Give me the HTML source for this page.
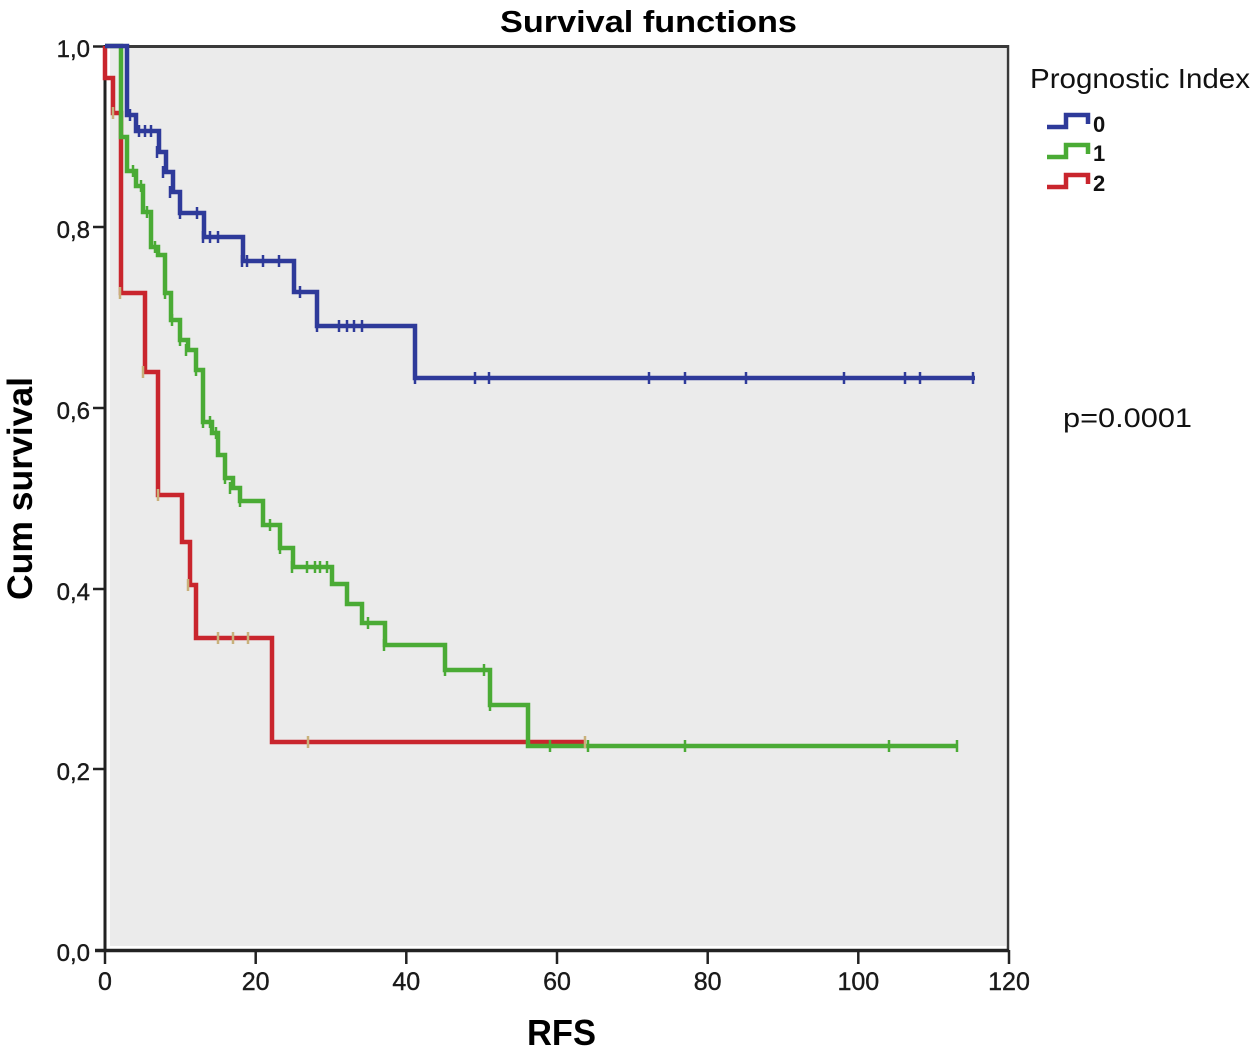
<!DOCTYPE html>
<html><head><meta charset="utf-8"><style>
html,body{margin:0;padding:0;background:#fff;}
svg{display:block;}
text{font-family:"Liberation Sans",Arial,sans-serif;}
</style></head><body>
<svg width="1258" height="1051" viewBox="0 0 1258 1051" xmlns="http://www.w3.org/2000/svg">
<rect x="0" y="0" width="1258" height="1051" fill="#fff"/>
<!-- plot background -->
<rect x="110" y="48" width="896" height="898" fill="#ebebeb"/>
<!-- frame -->
<line x1="105" y1="46.5" x2="1008" y2="46.5" stroke="#3a3a3a" stroke-width="3"/>
<line x1="1008" y1="45" x2="1008" y2="951" stroke="#3a3a3a" stroke-width="2.5"/>
<line x1="105" y1="45" x2="105" y2="952" stroke="#222" stroke-width="3"/>
<line x1="95" y1="950.5" x2="1009" y2="950.5" stroke="#222" stroke-width="3.5"/>
<!-- y ticks -->
<g stroke="#222" stroke-width="2.5">
<line x1="93" y1="46.5" x2="105" y2="46.5"/>
<line x1="93" y1="227" x2="105" y2="227"/>
<line x1="93" y1="408" x2="105" y2="408"/>
<line x1="93" y1="589" x2="105" y2="589"/>
<line x1="93" y1="769" x2="105" y2="769"/>
</g>
<!-- x ticks -->
<g stroke="#222" stroke-width="2.5">
<line x1="105" y1="950" x2="105" y2="964"/>
<line x1="255.7" y1="950" x2="255.7" y2="964"/>
<line x1="406.3" y1="950" x2="406.3" y2="964"/>
<line x1="557" y1="950" x2="557" y2="964"/>
<line x1="707.7" y1="950" x2="707.7" y2="964"/>
<line x1="858.3" y1="950" x2="858.3" y2="964"/>
<line x1="1009" y1="950" x2="1009" y2="964"/>
</g>
<!-- y tick labels -->
<g font-size="24" fill="#1a1a1a" text-anchor="end" stroke="#1a1a1a" stroke-width="0.4">
<text x="90" y="57">1,0</text>
<text x="90" y="238">0,8</text>
<text x="90" y="419">0,6</text>
<text x="90" y="600">0,4</text>
<text x="90" y="780">0,2</text>
<text x="90" y="961">0,0</text>
</g>
<!-- x tick labels -->
<g font-size="25" fill="#1a1a1a" text-anchor="middle" stroke="#1a1a1a" stroke-width="0.4">
<text x="105" y="990">0</text>
<text x="255.7" y="990">20</text>
<text x="406.3" y="990">40</text>
<text x="557" y="990">60</text>
<text x="707.7" y="990">80</text>
<text x="858.3" y="990">100</text>
<text x="1009" y="990">120</text>
</g>
<!-- title & axis labels -->
<text x="500" y="32" font-size="31" font-weight="bold" fill="#000" textLength="297" lengthAdjust="spacingAndGlyphs">Survival functions</text>
<text x="527" y="1045" font-size="36" font-weight="bold" fill="#000" textLength="69" lengthAdjust="spacingAndGlyphs">RFS</text>
<text transform="translate(32,600) rotate(-90)" font-size="35" font-weight="bold" fill="#000" textLength="223" lengthAdjust="spacingAndGlyphs">Cum survival</text>
<!-- legend -->
<text x="1030" y="88" font-size="28" fill="#111" textLength="220" lengthAdjust="spacingAndGlyphs">Prognostic Index</text>
<g fill="none" stroke-width="4.5">
<polyline points="1047,127 1066,127 1066,115 1088,115 1088,124" stroke="#2e3a9a"/>
<polyline points="1047,157 1066,157 1066,145 1088,145 1088,154" stroke="#4aab35"/>
<polyline points="1047,187 1066,187 1066,175 1088,175 1088,184" stroke="#c9252d"/>
</g>
<g font-size="22" fill="#111" font-weight="bold">
<text x="1093" y="132">0</text>
<text x="1093" y="161">1</text>
<text x="1093" y="191">2</text>
</g>
<text x="1063" y="427" font-size="27" fill="#111" textLength="129" lengthAdjust="spacingAndGlyphs">p=0.0001</text>

<!-- red curve (drawn first) -->
<polyline fill="none" stroke="#c9252d" stroke-width="4.5" points="105,46 105,78 113,78 113,113 121,113 121,293 145,293 145,372 158,372 158,495 182,495 182,542 190,542 190,585 196,585 196,638 272,638 272,742 585,742"/>
<!-- green curve -->
<polyline fill="none" stroke="#4aab35" stroke-width="4.5" points="105,46 121,46 121,137 127,137 127,171 136,171 136,186 143,186 143,212 151,212 151,247 158,247 158,255 165,255 165,293 171,293 171,320 180,320 180,340 188,340 188,350 196,350 196,370 203,370 203,422 212,422 212,433 218,433 218,455 225,455 225,478 233,478 233,488 240,488 240,501 263,501 263,525 280,525 280,548 293,548 293,567 332,567 332,584 347,584 347,604 362,604 362,623 385,623 385,645 445,645 445,670 490,670 490,705 528,705 528,746 957,746"/>
<!-- blue curve -->
<polyline fill="none" stroke="#2e3a9a" stroke-width="4.5" points="105,46 127,46 127,115 136,115 136,131 159,131 159,152 166,152 166,172 173,172 173,192 180,192 180,213 204,213 204,237 243,237 243,261 294,261 294,292 317,292 317,326 415,326 415,378 975,378"/>

<!-- censor ticks -->
<g stroke="#c8b07a" stroke-width="2.5">
<line x1="113" y1="107" x2="113" y2="119"/>
<line x1="120" y1="287" x2="120" y2="299"/>
<line x1="143" y1="366" x2="143" y2="378"/>
<line x1="158" y1="489" x2="158" y2="501"/>
<line x1="188" y1="579" x2="188" y2="591"/>
<line x1="218" y1="632" x2="218" y2="644"/>
<line x1="233" y1="632" x2="233" y2="644"/>
<line x1="248" y1="632" x2="248" y2="644"/>
<line x1="308" y1="736" x2="308" y2="748"/>
<line x1="585" y1="736" x2="585" y2="748"/>
</g>
<g stroke="#4aab35" stroke-width="2.5">
<line x1="133" y1="165" x2="133" y2="177"/>
<line x1="141" y1="180" x2="141" y2="192"/>
<line x1="147" y1="206" x2="147" y2="218"/>
<line x1="155" y1="241" x2="155" y2="253"/>
<line x1="165" y1="287" x2="165" y2="299"/>
<line x1="172" y1="314" x2="172" y2="326"/>
<line x1="180" y1="334" x2="180" y2="346"/>
<line x1="186" y1="344" x2="186" y2="356"/>
<line x1="196" y1="364" x2="196" y2="376"/>
<line x1="203" y1="416" x2="203" y2="428"/>
<line x1="210" y1="416" x2="210" y2="428"/>
<line x1="216" y1="427" x2="216" y2="439"/>
<line x1="225" y1="472" x2="225" y2="484"/>
<line x1="230" y1="482" x2="230" y2="494"/>
<line x1="240" y1="495" x2="240" y2="507"/>
<line x1="270" y1="519" x2="270" y2="531"/>
<line x1="280" y1="542" x2="280" y2="554"/>
<line x1="292" y1="561" x2="292" y2="573"/>
<line x1="307" y1="561" x2="307" y2="573"/>
<line x1="315" y1="561" x2="315" y2="573"/>
<line x1="320" y1="561" x2="320" y2="573"/>
<line x1="327" y1="561" x2="327" y2="573"/>
<line x1="368" y1="617" x2="368" y2="629"/>
<line x1="384" y1="639" x2="384" y2="651"/>
<line x1="445" y1="664" x2="445" y2="676"/>
<line x1="484" y1="664" x2="484" y2="676"/>
<line x1="490" y1="699" x2="490" y2="711"/>
<line x1="550" y1="740" x2="550" y2="752"/>
<line x1="588" y1="740" x2="588" y2="752"/>
<line x1="685" y1="740" x2="685" y2="752"/>
<line x1="889" y1="740" x2="889" y2="752"/>
<line x1="957" y1="740" x2="957" y2="752"/>
</g>
<g stroke="#2e3a9a" stroke-width="2.5">
<line x1="127" y1="56" x2="127" y2="68"/>
<line x1="130" y1="109" x2="130" y2="121"/>
<line x1="139" y1="125" x2="139" y2="137"/>
<line x1="145" y1="125" x2="145" y2="137"/>
<line x1="151" y1="125" x2="151" y2="137"/>
<line x1="157" y1="146" x2="157" y2="158"/>
<line x1="163" y1="166" x2="163" y2="178"/>
<line x1="170" y1="186" x2="170" y2="198"/>
<line x1="180" y1="207" x2="180" y2="219"/>
<line x1="197" y1="207" x2="197" y2="219"/>
<line x1="203" y1="231" x2="203" y2="243"/>
<line x1="210" y1="231" x2="210" y2="243"/>
<line x1="218" y1="231" x2="218" y2="243"/>
<line x1="242" y1="255" x2="242" y2="267"/>
<line x1="247" y1="255" x2="247" y2="267"/>
<line x1="263" y1="255" x2="263" y2="267"/>
<line x1="279" y1="255" x2="279" y2="267"/>
<line x1="300" y1="286" x2="300" y2="298"/>
<line x1="317" y1="320" x2="317" y2="332"/>
<line x1="339" y1="320" x2="339" y2="332"/>
<line x1="347" y1="320" x2="347" y2="332"/>
<line x1="354" y1="320" x2="354" y2="332"/>
<line x1="362" y1="320" x2="362" y2="332"/>
<line x1="415" y1="372" x2="415" y2="384"/>
<line x1="475" y1="372" x2="475" y2="384"/>
<line x1="489" y1="372" x2="489" y2="384"/>
<line x1="649" y1="372" x2="649" y2="384"/>
<line x1="685" y1="372" x2="685" y2="384"/>
<line x1="746" y1="372" x2="746" y2="384"/>
<line x1="844" y1="372" x2="844" y2="384"/>
<line x1="905" y1="372" x2="905" y2="384"/>
<line x1="920" y1="372" x2="920" y2="384"/>
<line x1="973" y1="372" x2="973" y2="384"/>
</g>
</svg>
</body></html>
